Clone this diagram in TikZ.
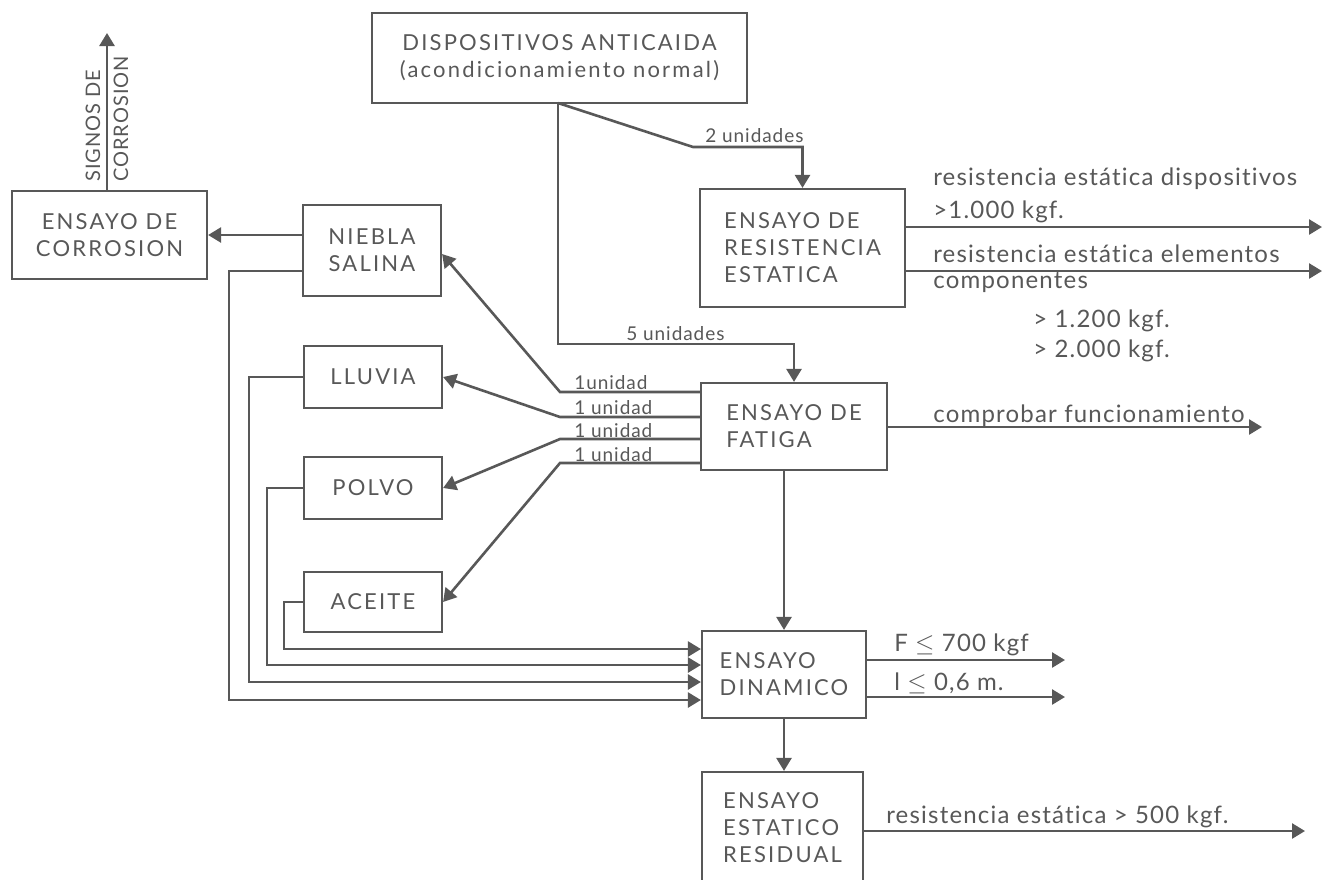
\documentclass[tikz,border=0pt]{standalone}
\usepackage{fontspec}
\setmainfont{Lato}
\newfontfamily\bxf{Lato}[LetterSpace=10,Ligatures=NoCommon]
\newfontfamily\lbf{Lato}[LetterSpace=5,Ligatures=NoCommon]
\usetikzlibrary{arrows.meta}
\definecolor{ink}{RGB}{88,88,88}
\tikzset{
  box/.style={draw, line width=2.2pt, inner sep=0pt, font=\bxf\fontsize{22}{27}\selectfont},
  arr/.style={-{Triangle[length=13pt,width=15pt]}},
  lbl/.style={font=\lbf\fontsize{19}{22}\selectfont, anchor=base west, inner sep=0pt},
  big/.style={font=\lbf\fontsize{24}{28}\selectfont, anchor=base west, inner sep=0pt},
  rot/.style={font=\lbf\fontsize{20}{22}\selectfont, anchor=base west, inner sep=0pt, rotate=90}
}
\begin{document}
\begin{tikzpicture}[x=1pt,y=-1pt,color=ink,line width=2.6pt]
\fill[white] (0,0) rectangle (1327,879);
\useasboundingbox (0,0) rectangle (1327,879);

% boxes
\node[box, minimum width=375pt, minimum height=90pt, align=center] (disp) at (559.5,58) {DISPOSITIVOS ANTICAIDA\\(acondicionamiento normal)};
\node[box, minimum width=195pt, minimum height=88pt, align=center] (corr) at (109.5,235) {ENSAYO DE\\CORROSION};
\node[box, minimum width=138pt, minimum height=91pt, align=center] (niebla) at (372,250.5) {NIEBLA\\SALINA};
\node[box, minimum width=205pt, minimum height=118pt, align=left] (resist) at (802.5,248) {ENSAYO DE\\RESISTENCIA\\ESTATICA};
\node[box, minimum width=138pt, minimum height=62pt] (lluvia) at (373,377) {LLUVIA};
\node[box, minimum width=138pt, minimum height=62pt] (polvo) at (373,488) {POLVO};
\node[box, minimum width=138pt, minimum height=60pt] (aceite) at (373,602) {ACEITE};
\node[box, minimum width=186pt, minimum height=87pt, align=left] (fatiga) at (794,426.5) {ENSAYO DE\\FATIGA};
\node[box, minimum width=164pt, minimum height=87pt, align=left] (dinam) at (784,674.5) {ENSAYO\\DINAMICO};
\node[box, minimum width=161pt, minimum height=112pt, align=left] (resid) at (782.5,828) {ENSAYO\\ESTATICO\\RESIDUAL};

% free ends
\coordinate (sig) at (107,33);
\coordinate (o1) at (1322,227);
\coordinate (o2) at (1322,271);
\coordinate (o3) at (1262,427);
\coordinate (o4) at (1065,660);
\coordinate (o5) at (1065,697);
\coordinate (o6) at (1305,831);

% corrosion
\draw[arr] (corr.north -| sig) -- (sig);
\node[rot] at (100,183) {SIGNOS DE};
\node[rot] at (128,183) {CORROSION};
\draw[arr] (niebla.west |- 0,235) -- (corr.east |- 0,235);

% collectors into dinamico
\draw[arr] (niebla.west |- 0,271) -- (229,271) -- (229,700) -- (dinam.west |- 0,700);
\draw[arr] (lluvia.west) -- (249,377) -- (249,682) -- (dinam.west |- 0,682);
\draw[arr] (polvo.west) -- (267,488) -- (267,665) -- (dinam.west |- 0,665);
\draw[arr] (aceite.west) -- (284,602) -- (284,649) -- (dinam.west |- 0,649);

% from dispositivos
\draw[arr] (558,103) -- (558,344) -- (794,344) -- (fatiga.north);
\draw[arr] (558,103) -- (693,147) -- (802.5,147) -- (resist.north);
\node[lbl] at (704,142) {2 unidades};
\node[lbl] at (625,340) {5 unidades};

% from fatiga
\draw[arr] (fatiga.west |- 0,392) -- (560,392) -- (niebla.east |- 0,254);
\draw[arr] (fatiga.west |- 0,417) -- (560,417) -- (lluvia.east);
\draw[arr] (fatiga.west |- 0,439) -- (560,439) -- (polvo.east);
\draw[arr] (fatiga.west |- 0,463) -- (560,463) -- (aceite.east);
\node[lbl] at (573,389) {1unidad};
\node[lbl] at (573,414) {1 unidad};
\node[lbl] at (573,437) {1 unidad};
\node[lbl] at (573,461) {1 unidad};

\draw[arr] (dinam.north |- fatiga.south) -- (dinam.north);
\draw[arr] (dinam.south) -- (dinam.south |- resid.north);

% outputs
\draw[arr] (resist.east |- o1) -- (o1);
\draw[arr] (resist.east |- o2) -- (o2);
\draw[arr] (fatiga.east |- o3) -- (o3);
\draw[arr] (dinam.east |- o4) -- (o4);
\draw[arr] (dinam.east |- o5) -- (o5);
\draw[arr] (resid.east |- o6) -- (o6);

\node[big] at (932,185) {resistencia estática dispositivos};
\node[big] at (932,218) {>1.000 kgf.};
\node[big] at (932,262) {resistencia estática elementos};
\node[big] at (932,288) {componentes};
\node[big] at (1032,327) {> 1.200 kgf.};
\node[big] at (1032,357) {> 2.000 kgf.};
\node[big] at (932,422) {comprobar funcionamiento};
\node[big] at (893,651) {F $\leq$ 700 kgf};
\node[big] at (893,690) {l $\leq$ 0,6 m.};
\node[big] at (885,823) {resistencia estática > 500 kgf.};
\end{tikzpicture}
\end{document}
